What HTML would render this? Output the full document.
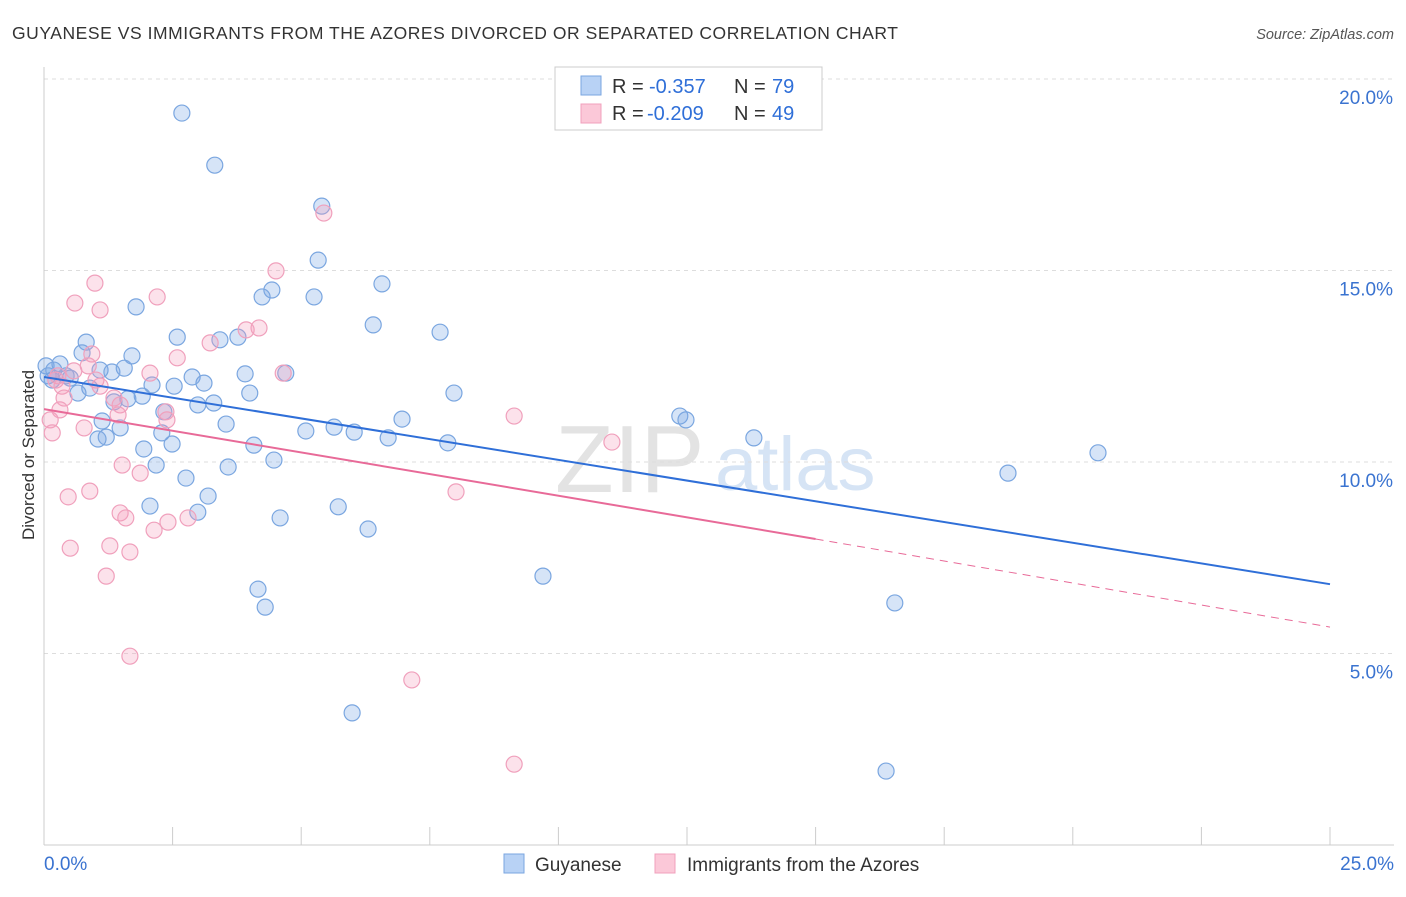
<!DOCTYPE html>
<html><head><meta charset="utf-8"><style>
body{margin:0;background:#fff;font-family:"Liberation Sans",sans-serif}
svg text{font-family:"Liberation Sans",sans-serif}
</style></head><body>
<svg id="c" width="1406" height="892" viewBox="0 0 1406 892">
<text x="12" y="39" font-size="17.5" fill="#333" textLength="886" lengthAdjust="spacing">GUYANESE VS IMMIGRANTS FROM THE AZORES DIVORCED OR SEPARATED CORRELATION CHART</text>
<text x="1394" y="39" font-size="14.5" fill="#555" font-style="italic" text-anchor="end">Source: ZipAtlas.com</text>
<text x="34" y="455" font-size="17" fill="#333" text-anchor="middle" transform="rotate(-90 34 455)">Divorced or Separated</text>
<text x="555" y="492" font-size="96" fill="#e3e3e3" font-family="Liberation Serif">ZIP</text>
<text x="715" y="490" font-size="76" fill="#d6e4f5">atlas</text>
<g id="grid"></g><g id="axes"></g><g id="pts"></g><g id="lines"></g>
<g>
<rect x="555" y="67" width="267" height="63" fill="#fff" stroke="#ccc"/>
<rect x="581" y="76" width="20" height="19" fill="#b8d2f5" stroke="#7aa6e0"/>
<rect x="581" y="104" width="20" height="19" fill="#fbc8d8" stroke="#f0a0bc"/>
<text x="612" y="93" font-size="20" fill="#333">R =</text>
<text x="649" y="93" font-size="20" fill="#2f6fd8">-0.357</text>
<text x="734" y="93" font-size="20" fill="#333">N =</text>
<text x="772" y="93" font-size="20" fill="#2f6fd8">79</text>
<text x="612" y="120" font-size="20" fill="#333">R =</text>
<text x="647" y="120" font-size="20" fill="#2f6fd8">-0.209</text>
<text x="734" y="120" font-size="20" fill="#333">N =</text>
<text x="772" y="120" font-size="20" fill="#2f6fd8">49</text>
</g>
<g>
<rect x="504" y="854" width="20" height="19" fill="#b8d2f5" stroke="#7aa6e0"/>
<text x="535" y="871" font-size="19" fill="#333">Guyanese</text>
<rect x="655" y="854" width="20" height="19" fill="#fbc8d8" stroke="#f0a0bc"/>
<text x="687" y="871" font-size="19" fill="#333">Immigrants from the Azores</text>
</g>
</svg>
<script>
const yTicks=[5,10,15,20];
const xTickVals=[0,2.5,5,7.5,10,12.5,15,17.5,20,22.5,25];
const blueX=[2.68,3.32,5.40,5.33,6.57,4.43,4.24,5.25,1.79,6.40,7.70,2.59,3.77,3.42,0.82,0.74,1.71,0.31,0.04,0.19,0.08,0.43,1.09,1.56,1.32,2.88,3.91,4.70,0.16,0.51,2.10,3.11,2.53,0.89,0.66,1.91,1.63,4.00,7.97,1.36,2.99,3.30,2.33,3.54,6.96,12.36,12.48,1.13,1.48,2.29,5.64,5.09,6.03,6.69,1.21,1.05,2.49,4.08,7.85,13.80,1.94,4.47,2.18,3.58,2.76,20.49,18.74,3.19,2.06,5.72,2.99,4.59,6.30,9.70,4.16,4.30,16.54,5.99,16.37];
const blueY=[19.11,17.75,16.68,15.27,14.65,14.49,14.31,14.31,14.05,13.58,13.39,13.26,13.26,13.19,13.13,12.85,12.77,12.56,12.51,12.40,12.25,12.25,12.40,12.45,12.35,12.22,12.30,12.32,12.14,12.19,12.01,12.06,11.98,11.93,11.80,11.72,11.65,11.80,11.80,11.57,11.49,11.54,11.31,10.99,11.12,11.20,11.10,11.07,10.89,10.76,10.91,10.81,10.78,10.63,10.65,10.60,10.47,10.44,10.50,10.63,10.34,10.05,9.92,9.87,9.58,10.24,9.71,9.11,8.85,8.83,8.69,8.54,8.25,7.02,6.68,6.21,6.32,3.45,1.93];
const pinkX=[5.44,4.51,0.99,2.20,0.60,1.09,4.18,3.93,3.23,0.93,2.59,4.65,0.86,0.58,2.06,0.23,0.35,1.09,0.39,1.36,1.48,0.31,2.37,2.39,9.14,0.12,0.78,0.16,11.04,1.52,1.87,8.01,0.89,0.47,1.48,1.59,2.41,2.80,2.14,0.51,1.28,1.67,1.21,1.67,7.15,9.14,1.44,1.01,0.27];
const pinkY=[16.50,14.99,14.67,14.31,14.15,13.97,13.50,13.45,13.11,12.82,12.72,12.32,12.51,12.38,12.32,12.14,11.98,11.98,11.67,11.67,11.49,11.36,11.31,11.10,11.20,11.10,10.89,10.76,10.52,9.92,9.71,9.22,9.24,9.09,8.67,8.54,8.43,8.54,8.22,7.75,7.81,7.65,7.02,4.93,4.31,2.11,11.23,12.14,12.25];
const blueTrend=[12.22,6.81];
const pinkTrend=[11.38,7.99,5.69];
const pinkSolidEnd=15;
const NS='http://www.w3.org/2000/svg';
const xs=v=>44+v/25*1286, ys=v=>845-v/20*766;
function mk(tag,attrs,parent){const e=document.createElementNS(NS,tag);for(const k in attrs)e.setAttribute(k,attrs[k]);document.getElementById(parent).appendChild(e);return e;}
yTicks.forEach(t=>{
 const l=mk('line',{x1:44,x2:1394,y1:ys(t),y2:ys(t),stroke:'#ddd','stroke-dasharray':'4,4'},'grid');
 
 
 const tx=mk('text',{x:1393,y:ys(t)+25,'font-size':19,fill:'#3a73d0','text-anchor':'end'},'grid');
 tx.textContent=t.toFixed(1)+'%';
 
 
});
const ax=mk('line',{x1:44,x2:1394,y1:845,y2:845,stroke:'#ccc'},'axes');


const ay=mk('line',{x1:44,x2:44,y1:67,y2:845,stroke:'#ccc'},'axes');


xTickVals.forEach(t=>{
 const l=mk('line',{x1:xs(t),x2:xs(t),y1:827,y2:845,stroke:'#ccc'},'axes');
 
 
});
[[0,'start','0.0%'],[25,'end','25.0%']].forEach(([v,a,s])=>{
 const t=mk('text',{x:v===0?xs(v):1394,y:870,'font-size':19,fill:'#3a73d0','text-anchor':a},'axes');
 t.textContent=s;
 
 
});
blueX.forEach((x,i)=>{
 const c=mk('circle',{cx:xs(x),cy:ys(blueY[i]),r:8,fill:'rgba(120,165,230,0.3)',stroke:'#7aa6e0','stroke-width':1.2},'pts');
 
 
});
pinkX.forEach((x,i)=>{
 const c=mk('circle',{cx:xs(x),cy:ys(pinkY[i]),r:8,fill:'rgba(245,160,190,0.3)',stroke:'#f0a0bc','stroke-width':1.2},'pts');
 
 
});
const bl=mk('line',{x1:xs(0),y1:ys(blueTrend[0]),x2:xs(25),y2:ys(blueTrend[1]),stroke:'#2f6fd8','stroke-width':2},'lines');


const pl=mk('line',{x1:xs(0),y1:ys(pinkTrend[0]),x2:xs(pinkSolidEnd),y2:ys(pinkTrend[1]),stroke:'#e86a98','stroke-width':2},'lines');


const pd=mk('line',{x1:xs(pinkSolidEnd),y1:ys(pinkTrend[1]),x2:xs(25),y2:ys(pinkTrend[2]),stroke:'#e86a98','stroke-width':1,'stroke-dasharray':'8,6'},'lines');


</script>
</body></html>
